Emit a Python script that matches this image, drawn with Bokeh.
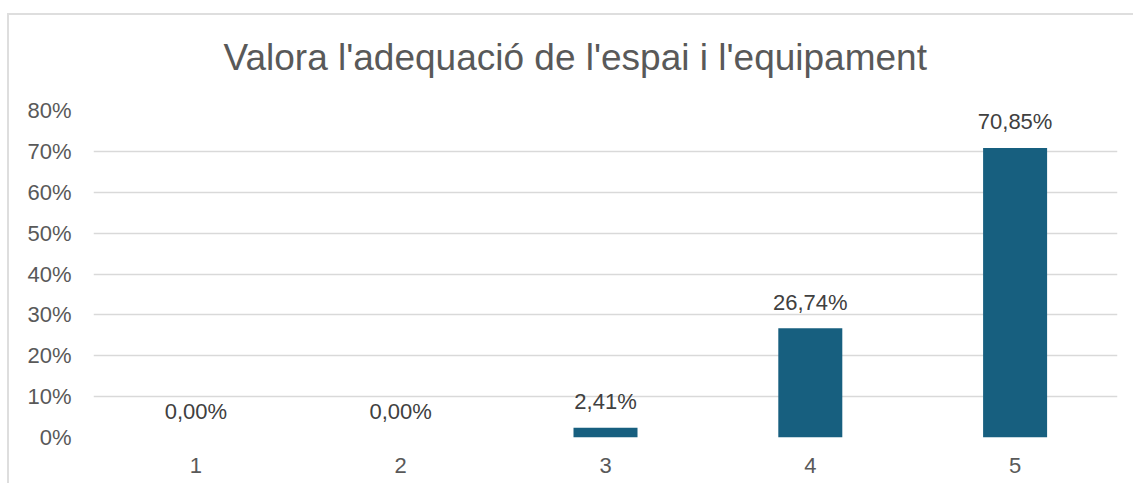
from bokeh.plotting import figure
from bokeh.models import ColumnDataSource, FixedTicker, NumeralTickFormatter, Range1d, FactorRange, Title
from bokeh.core.properties import value
from bokeh.embed import file_html
from bokeh.resources import INLINE

# ---- data ----
categories = ["1", "2", "3", "4", "5"]
percentages = [0.00, 0.00, 2.41, 26.74, 70.85]
y_ticks = [0.0, 0.1, 0.2, 0.3, 0.4, 0.5, 0.6, 0.7, 0.8]
title_text = "Valora l'adequació de l'espai i l'equipament"

FONT = "Liberation Sans"
BAR = "#175F7F"
GRID = "#d9d9d9"
TXT = "#595959"
LBL = "#404040"

src = ColumnDataSource(dict(
    cat=categories,
    val=[v / 100 for v in percentages],
    lbl=[f"{v:.2f}%".replace(".", ",") for v in percentages],
))

p = figure(
    x_range=FactorRange(*categories, range_padding=0),
    y_range=Range1d(0, 0.8),
    width=1133, height=483,
    output_backend="svg", toolbar_location=None,
    min_border_left=93, min_border_right=16, min_border_top=110, min_border_bottom=46,
)
# chart-area border (top and left edges) painted behind a transparent canvas
p.styles = {
    "background": "linear-gradient(#dedede, #dedede) 7px 13px / 100% 2px no-repeat, "
                  "linear-gradient(#dedede, #dedede) 7px 13px / 2px 100% no-repeat, white",
}
p.outline_line_color = None
p.background_fill_color = "white"
p.border_fill_color = None

p.add_layout(Title(text=title_text, align="left", offset=130, vertical_align="bottom", standoff=66,
                   text_font_size="37px", text_font=FONT, text_font_style="normal",
                   text_color=TXT), "above")

p.vbar(x="cat", top="val", width=0.3125, source=src, fill_color=BAR, line_color=None)
p.text(x="cat", y="val", text="lbl", source=src, text_align="center", text_baseline="alphabetic",
       y_offset=-26, text_font=value(FONT), text_font_size="22px", text_color=LBL)

p.xgrid.grid_line_color = None
p.ygrid.grid_line_color = GRID
p.ygrid.grid_line_width = 1.5
p.ygrid.ticker = FixedTicker(ticks=y_ticks)

p.yaxis.ticker = FixedTicker(ticks=y_ticks)
p.yaxis.formatter = NumeralTickFormatter(format="0%")
for ax in (p.xaxis[0], p.yaxis[0]):
    ax.axis_line_color = None
    ax.major_tick_line_color = None
    ax.minor_tick_line_color = None
    ax.major_tick_out = 0
    ax.major_tick_in = 0
    ax.major_label_text_font = FONT
    ax.major_label_text_font_size = "22px"
    ax.major_label_text_color = TXT
p.yaxis.major_label_standoff = 22
p.xaxis.major_label_standoff = 20

open("out.html", "w").write(file_html(p, INLINE))
